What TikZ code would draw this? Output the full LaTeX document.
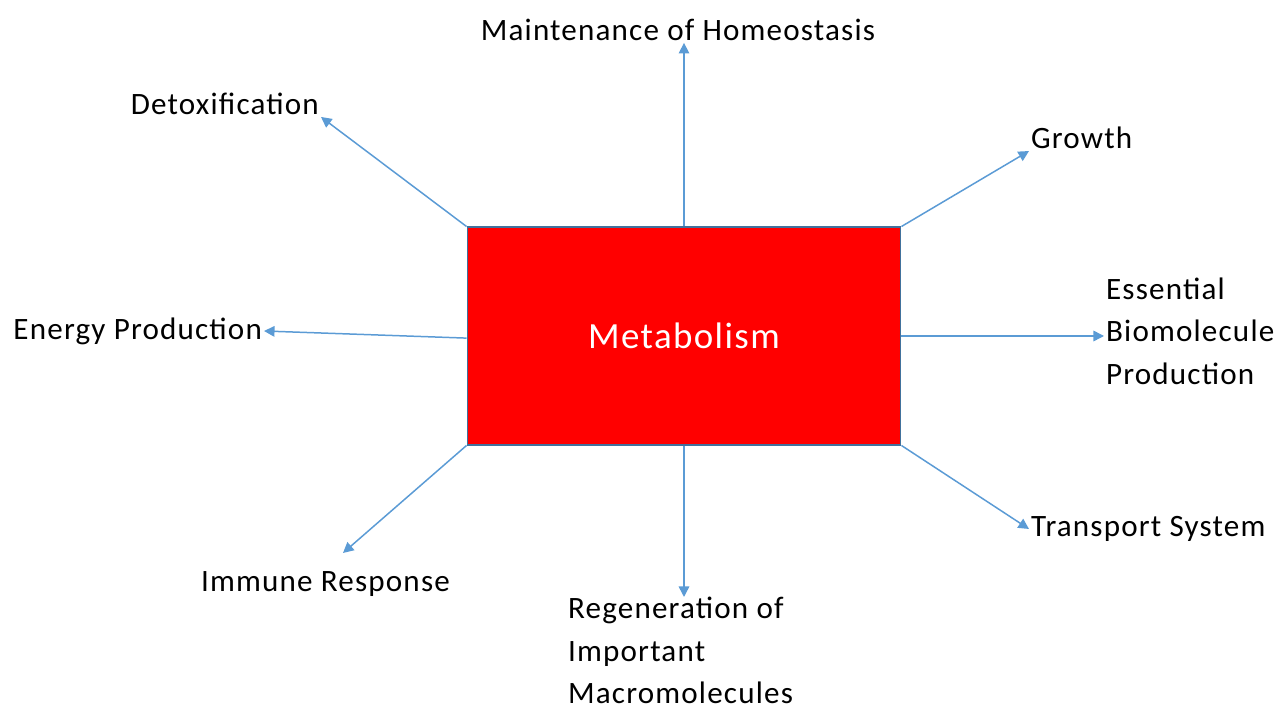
\documentclass[tikz,border=0pt]{standalone}
\usepackage{fontspec}
\setmainfont[LetterSpace=3.8]{Carlito}
\usetikzlibrary{arrows.meta}
\definecolor{linkblue}{RGB}{91,155,213}
\definecolor{boxedge}{RGB}{65,113,156}
\begin{document}
\begin{tikzpicture}[x=0.02cm, y=-0.02cm,
    lbl/.style={font=\fontsize{17.7}{24.2}\selectfont, inner sep=1pt},
    link/.style={draw=linkblue, line width=0.85pt, -{Triangle[length=6pt, width=6pt]}}]
    \useasboundingbox (0,0) rectangle (1276,705);
    \node[fill=red, draw=boxedge, line width=0.6pt, minimum width=8.68cm, minimum height=4.36cm,
          text=white, font=\fontsize{21}{25}\selectfont] (metab) at (684,336) {Metabolism};
    \node[lbl] (maint) at (678,30) {Maintenance of Homeostasis};
    \node[lbl, anchor=east] (detox) at (321,104) {Detoxification};
    \node[lbl, anchor=west] (growth) at (1029,138) {Growth};
    \node[lbl, anchor=east] (energy) at (264,331) {Energy Production};
    \node[lbl, anchor=west, align=left] (essential) at (1104,331) {Essential\\Biomolecule\\Production};
    \node[lbl, anchor=west] (immune) at (199,584) {Immune Response};
    \node[lbl, anchor=north west, align=left] (regen) at (566,595) {Regeneration of\\Important\\Macromolecules};
    \node[lbl, anchor=west] (transport) at (1029,529) {Transport System};
    \coordinate (immend) at (343,553);
    \coordinate (regend) at (684,597);
    \draw[link] (metab.north) -- (metab.north |- maint.south);
    \draw[link] (metab.north west) -- (detox.south east);
    \draw[link] (metab.north east) -- (growth.south west);
    \draw[link] ([yshift=-1.2pt]metab.west) -- (energy.east);
    \draw[link] (metab.east) -- (essential.west |- metab.east);
    \draw[link] (metab.south west) -- (immend);
    \draw[link] (metab.south) -- (regend);
    \draw[link] (metab.south east) -- (transport.west);
\end{tikzpicture}
\end{document}
